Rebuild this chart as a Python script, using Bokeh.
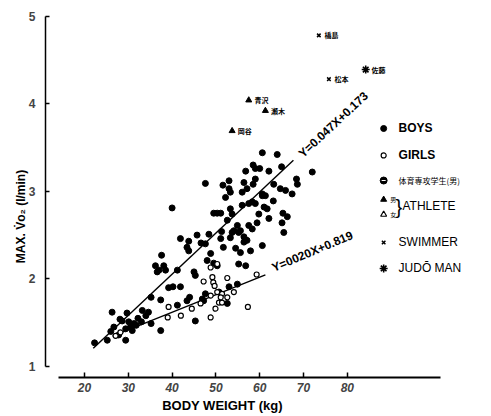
import math
from bokeh.plotting import figure
from bokeh.models import Range1d, LinearAxis, FixedTicker
from bokeh.embed import file_html
from bokeh.resources import INLINE
from bokeh.core.properties import value

# Body weight (kg) and maximal oxygen uptake (l/min)
boys_w = [22.3, 25.2, 26.3, 26.7, 28.1, 28.6, 29.4, 29.4, 29.7, 30.1, 30.5, 30.9,
          31.3, 31.8, 33.0, 33.2, 34.0, 35.2, 35.2, 37.4, 37.4, 39.2, 40.2, 41.2,
          41.9, 44.0, 43.4, 46.9, 47.2, 45.3, 36.2, 37.0, 38.1, 38.5, 36.6, 37.6,
          41.2, 40.0, 41.9, 43.8, 43.4, 43.8, 45.3, 45.0, 45.7, 46.6, 47.6, 48.4,
          48.0, 49.5, 50.3, 48.8, 47.6, 49.5, 50.3, 51.1, 51.1, 51.3, 51.7, 51.6,
          53.0, 53.0, 53.3, 52.2, 53.3, 53.7, 52.6, 53.3, 53.7, 54.1, 54.9, 55.6,
          54.5, 55.2, 55.6, 55.2, 56.8, 53.0, 54.9, 52.6, 50.7, 47.6, 56.0, 57.5,
          56.0, 57.1, 56.4, 56.8, 58.5, 59.0, 60.0, 60.6, 64.0, 62.1, 65.0, 59.0,
          58.5, 63.2, 68.4, 68.6, 72.0, 60.6, 61.3, 64.7, 65.9, 67.4, 63.1, 59.0,
          61.0, 58.3, 59.8, 62.1, 65.3, 66.3, 65.1, 65.5, 59.4, 57.5, 58.3, 56.4,
          57.1, 60.6, 57.9, 56.4, 61.7, 60.6, 26.0, 27.8, 32.2, 34.6]
boys_v = [1.27, 1.30, 1.62, 1.45, 1.54, 1.52, 1.30, 1.43, 1.61, 1.51, 1.45, 1.41,
          1.49, 1.47, 1.51, 1.64, 1.58, 1.79, 1.49, 1.76, 1.41, 1.90, 1.91, 1.70,
          1.91, 1.79, 1.75, 1.77, 1.75, 1.52, 2.15, 2.10, 2.15, 2.10, 2.08, 2.27,
          2.10, 2.81, 2.46, 2.43, 2.36, 2.32, 2.04, 2.08, 2.50, 2.41, 2.40, 2.51,
          2.21, 2.18, 2.15, 2.29, 3.09, 2.75, 2.75, 2.75, 2.46, 2.54, 2.36, 3.07,
          3.12, 3.03, 2.99, 2.93, 2.80, 2.74, 2.67, 2.47, 2.53, 2.55, 2.61, 2.55,
          2.35, 2.53, 2.30, 2.17, 2.15, 1.91, 1.94, 1.72, 1.85, 1.83, 2.84, 2.86,
          2.99, 3.03, 3.10, 3.23, 3.30, 3.26, 3.26, 3.44, 3.42, 3.23, 3.28, 3.14,
          3.08, 3.08, 3.14, 3.08, 3.22, 2.95, 2.95, 3.03, 3.01, 2.97, 2.89, 2.86,
          2.82, 2.88, 2.74, 2.69, 2.75, 2.71, 2.64, 2.53, 2.64, 2.61, 2.57, 2.48,
          2.44, 2.38, 2.32, 2.42, 2.80, 2.97, 1.40, 1.36, 1.55, 1.62]

girls_w = [27.1, 28.2, 39.0, 39.2, 48.8, 49.9, 50.7, 51.4, 57.3, 47.2, 49.2, 49.4,
           49.7, 52.6, 48.8, 50.3, 51.4, 51.1, 52.6, 54.1, 48.8, 50.3, 59.3, 46.5,
           44.5, 42.0]
girls_v = [1.35, 1.39, 1.56, 1.68, 1.56, 1.66, 1.73, 1.73, 1.68, 1.97, 2.02, 1.96,
           1.92, 2.01, 2.13, 2.17, 1.83, 1.79, 1.79, 1.85, 1.81, 1.85, 2.05, 1.72,
           1.66, 1.58]

# Named top performers
athlete_w = [57.5, 61.3, 53.7]
athlete_v = [4.04, 3.92, 3.69]
athlete_names = ["青沢", "瀬木", "岡谷"]
swimmer_w = [73.5, 75.8]
swimmer_v = [4.78, 4.28]
swimmer_names = ["橋島", "松本"]
judo_w = [84.2]
judo_v = [4.39]
judo_names = ["佐藤"]

# Regression lines  Y = a X + b, drawn over the weight span of each group
boys_fit = (0.047, 0.173, 22.0, 67.7)
girls_fit = (0.020, 0.819, 26.4, 61.3)

x_ticks = [20, 30, 40, 50, 60, 70, 80]
y_ticks = [1, 2, 3, 4, 5]

FONT = "Liberation Sans"
JP = "Noto Sans CJK JP"

# The frame covers the whole canvas; both axes are pinned inside it.
p = figure(width=491, height=416, output_backend="svg", toolbar_location=None,
           x_range=Range1d(0.822, 112.92), y_range=Range1d(0.4292, 5.178),
           x_axis_location=None, y_axis_location=None,
           min_border=0, min_border_left=0, min_border_right=0,
           min_border_top=0, min_border_bottom=0)
p.outline_line_color = None
p.grid.grid_line_color = None
p.background_fill_color = "white"
p.border_fill_color = "white"

xaxis = LinearAxis(ticker=FixedTicker(ticks=x_ticks), bounds=(14, 101.3),
                   fixed_location=0.874,
                   major_tick_in=5, major_tick_out=0, minor_tick_line_color=None,
                   axis_line_width=1.8, major_tick_line_width=1.5,
                   major_label_text_font=FONT, major_label_text_font_style="bold italic",
                   major_label_text_font_size="12px", major_label_standoff=5)
yaxis = LinearAxis(ticker=FixedTicker(ticks=y_ticks), bounds=(1, 5),
                   fixed_location=11.1,
                   major_tick_in=4, major_tick_out=0, minor_tick_line_color=None,
                   axis_line_width=1.5, major_tick_line_width=1.5,
                   major_label_text_font=FONT, major_label_text_font_style="bold",
                   major_label_text_font_size="12px", major_label_standoff=10)
p.add_layout(xaxis, "below")
p.add_layout(yaxis, "left")

# Regression lines
for a, b, x0, x1 in (boys_fit, girls_fit):
    p.line([x0, x1], [a * x0 + b, a * x1 + b], line_color="black", line_width=1.4)

p.scatter(boys_w, boys_v, marker="circle", size=6, fill_color="black", line_color="black")
p.scatter(girls_w, girls_v, marker="circle", size=5, fill_color="white",
          line_color="black", line_width=1.2)

p.scatter(athlete_w, athlete_v, marker="triangle", size=6, fill_color="black", line_color="black")
p.scatter(swimmer_w, swimmer_v, marker="x", size=5, line_color="black", line_width=1.5)
p.scatter(judo_w, judo_v, marker="asterisk", size=8, line_color="black", line_width=1.6)

for ws, vs, names in ((athlete_w, athlete_v, athlete_names),
                      (swimmer_w, swimmer_v, swimmer_names),
                      (judo_w, judo_v, judo_names)):
    p.text([w + 1.3 for w in ws], vs, text=names, text_font=value(JP),
           text_font_size="7px", text_font_style="bold", text_baseline="middle",
           text_color="black")

# Equation labels along the lines
p.text([69.3], [3.41], text=["Y=0.047X+0.173"], angle=0.75, text_font=value(FONT),
       text_font_size="12px", text_font_style="bold", text_baseline="middle")
p.text([62.9], [2.12], text=["Y=0020X+0.819"], angle=0.40, text_font=value(FONT),
       text_font_size="12px", text_font_style="bold", text_baseline="middle")

# Key
key_x, key_tx = 88.3, 91.7
p.scatter([key_x], [3.717], marker="circle", size=6, fill_color="black", line_color="black")
p.scatter([key_x], [3.409], marker="circle", size=5, fill_color="white", line_color="black", line_width=1.2)
p.scatter([key_x], [3.123], marker="circle", size=7, fill_color="black", line_color="black")
p.scatter([key_x], [3.123], marker="dash", size=4, line_color="white", line_width=1.2)
p.scatter([key_x], [2.906], marker="triangle", size=6, fill_color="black", line_color="black")
p.scatter([key_x], [2.735], marker="triangle", size=6, fill_color="white", line_color="black", line_width=1.2)
p.scatter([key_x], [2.416], marker="x", size=5, line_color="black", line_width=1.5)
p.scatter([key_x], [2.119], marker="asterisk", size=8, line_color="black", line_width=1.6)

p.text([key_tx, key_tx], [3.717, 3.409], text=["BOYS", "GIRLS"], text_font=value(FONT),
       text_font_size="12px", text_font_style="bold", text_baseline="middle")
p.text([key_tx], [3.123], text=["体育専攻学生(男)"], text_font=value(JP),
       text_font_size="8px", text_baseline="middle")
p.text([89.8, 89.8], [2.906, 2.735], text=["男", "女"], text_font=value(JP),
       text_font_size="6px", text_baseline="middle")
p.text([91.0], [2.82], text=["}"], text_font=value(FONT), text_font_size="20px",
       text_baseline="middle")
p.text([92.6, key_tx, key_tx], [2.83, 2.416, 2.119], text=["ATHLETE", "SWIMMER", "JUDŌ MAN"],
       text_font=value(FONT), text_font_size="12px", text_baseline="middle")

# Axis titles
p.text([51.5], [0.555], text=["BODY WEIGHT (kg)"], text_font=value(FONT),
       text_font_size="13px", text_font_style="bold", text_align="center",
       text_baseline="middle")
p.text([5.4], [2.75], text=["MAX. V̇o₂   (l/min)"], text_font=value(FONT),
       text_font_size="12px", text_font_style="bold", text_align="center",
       text_baseline="middle", angle=math.pi / 2)

open("out.html", "w").write(file_html(p, INLINE))
